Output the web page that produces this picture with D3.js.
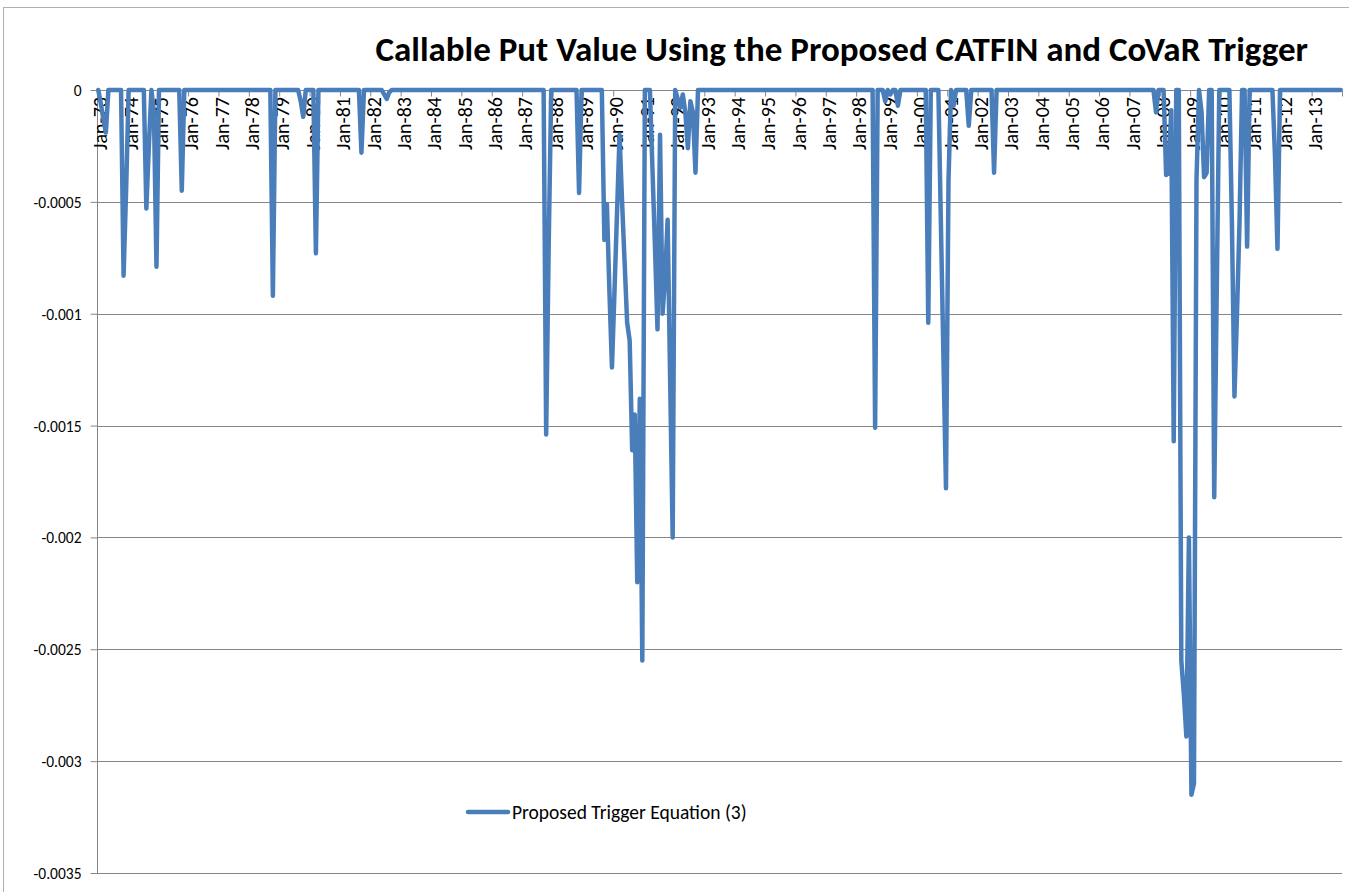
<!DOCTYPE html>
<html>
<head>
<meta charset="utf-8">
<title>Callable Put Value Using the Proposed CATFIN and CoVaR Trigger</title>
<script src="https://d3js.org/d3.v7.min.js"></script>
<style>
  body { margin: 0; background: #fff; }
  svg text { font-family: Calibri, Carlito, Lato, sans-serif; fill: #000; }
</style>
</head>
<body>
<div id="chart"></div>
<script>
// categories: one slot per month, Jan-73 .. Dec-13
const firstYear = 1973;
const lastYear = 2013;
const tickLabels = ["Jan-73","Jan-74","Jan-75","Jan-76","Jan-77","Jan-78","Jan-79","Jan-80",
  "Jan-81","Jan-82","Jan-83","Jan-84","Jan-85","Jan-86","Jan-87","Jan-88","Jan-89","Jan-90",
  "Jan-91","Jan-92","Jan-93","Jan-94","Jan-95","Jan-96","Jan-97","Jan-98","Jan-99","Jan-00",
  "Jan-01","Jan-02","Jan-03","Jan-04","Jan-05","Jan-06","Jan-07","Jan-08","Jan-09","Jan-10",
  "Jan-11","Jan-12","Jan-13"];

// put value, one row per year (Jan..Dec)
const putValues = [
  [0, -0.00006, -0.00013, -0.00019, 0, 0, 0, 0, 0, 0, -0.00083, -0.00045], // 1973
  [0, 0, 0, 0, 0, 0, 0, -0.00053, -0.00025, 0, -0.0001, -0.00079],         // 1974
  [0, 0, 0, 0, 0, 0, 0, 0, 0, -0.00045, 0, 0],                             // 1975
  [0, 0, 0, 0, 0, 0, 0, 0, 0, 0, 0, 0],                                    // 1976
  [0, 0, 0, 0, 0, 0, 0, 0, 0, 0, 0, 0],                                    // 1977
  [0, 0, 0, 0, 0, 0, 0, 0, 0, -0.00092, 0, 0],                             // 1978
  [0, 0, 0, 0, 0, 0, 0, 0, -0.00005, -0.00012, 0, 0],                      // 1979
  [0, 0, -0.00073, 0, 0, 0, 0, 0, 0, 0, 0, 0],                             // 1980
  [0, 0, 0, 0, 0, 0, 0, 0, -0.00028, 0, 0, 0],                             // 1981
  [0, 0, 0, 0, 0, -0.00002, -0.00004, -0.00001, 0, 0, 0, 0],               // 1982
  [0, 0, 0, 0, 0, 0, 0, 0, 0, 0, 0, 0],                                    // 1983
  [0, 0, 0, 0, 0, 0, 0, 0, 0, 0, 0, 0],                                    // 1984
  [0, 0, 0, 0, 0, 0, 0, 0, 0, 0, 0, 0],                                    // 1985
  [0, 0, 0, 0, 0, 0, 0, 0, 0, 0, 0, 0],                                    // 1986
  [0, 0, 0, 0, 0, 0, 0, 0, 0, -0.00154, -0.00069, 0],                      // 1987
  [0, 0, 0, 0, 0, 0, 0, 0, 0, 0, -0.00046, 0],                             // 1988
  [0, 0, 0, 0, 0, 0, 0, 0, -0.00067, -0.00051, -0.0009, -0.00124],         // 1989
  [-0.0009, -0.00055, -0.0002, -0.0005, -0.00077, -0.00104, -0.00112, -0.00161, -0.00145, -0.0022, -0.00138, -0.00255], // 1990
  [0, 0, 0, -0.00035, -0.0007, -0.00107, -0.0002, -0.001, -0.00084, -0.00058, -0.0013, -0.002], // 1991
  [0, -0.00004, -0.00008, -0.00002, -0.0001, -0.00026, -0.00005, -0.0001, -0.00037, 0, 0, 0], // 1992
  [0, 0, 0, 0, 0, 0, 0, 0, 0, 0, 0, 0],                                    // 1993
  [0, 0, 0, 0, 0, 0, 0, 0, 0, 0, 0, 0],                                    // 1994
  [0, 0, 0, 0, 0, 0, 0, 0, 0, 0, 0, 0],                                    // 1995
  [0, 0, 0, 0, 0, 0, 0, 0, 0, 0, 0, 0],                                    // 1996
  [0, 0, 0, 0, 0, 0, 0, 0, 0, 0, 0, 0],                                    // 1997
  [0, 0, 0, 0, 0, 0, 0, -0.00151, 0, 0, 0, -0.00005],                      // 1998
  [0, -0.00002, 0, 0, -0.00007, 0, 0, 0, 0, 0, 0, 0],                      // 1999
  [0, 0, 0, 0, -0.00104, 0, 0, 0, 0, -0.0006, -0.0012, -0.00178],          // 2000
  [-0.0004, 0, -0.00007, 0, 0, 0, 0, 0, -0.00016, 0, 0, 0],                // 2001
  [0, 0, 0, 0, 0, 0, -0.00037, 0, 0, 0, 0, 0],                             // 2002
  [0, 0, 0, 0, 0, 0, 0, 0, 0, 0, 0, 0],                                    // 2003
  [0, 0, 0, 0, 0, 0, 0, 0, 0, 0, 0, 0],                                    // 2004
  [0, 0, 0, 0, 0, 0, 0, 0, 0, 0, 0, 0],                                    // 2005
  [0, 0, 0, 0, 0, 0, 0, 0, 0, 0, 0, 0],                                    // 2006
  [0, 0, 0, 0, 0, 0, 0, 0, 0, 0, -0.0001, 0],                              // 2007
  [0, 0, -0.00038, -0.00037, -0.00009, -0.00157, 0, 0, -0.00255, -0.0027, -0.00289, -0.002], // 2008
  [-0.00315, -0.0031, -0.0004, 0, -0.0001, -0.00039, -0.00037, 0, 0, -0.00182, -0.0009, 0], // 2009
  [0, 0, 0, 0, -0.0006, -0.00137, -0.001, -0.00059, 0, 0, -0.0007, 0],     // 2010
  [0, 0, 0, 0, 0, 0, 0, 0, 0, -0.00029, -0.00071, 0],                      // 2011
  [0, 0, 0, 0, 0, 0, 0, 0, 0, 0, 0, 0],                                    // 2012
  [0, 0, 0, 0, 0, 0, 0, 0, 0, 0, 0, 0]                                     // 2013
];

const yTicks = [0, -0.0005, -0.001, -0.0015, -0.002, -0.0025, -0.003, -0.0035];
const yTickLabels = ["0", "-0.0005", "-0.001", "-0.0015", "-0.002", "-0.0025", "-0.003", "-0.0035"];

const seriesName = "Proposed Trigger Equation (3)";
const chartTitle = "Callable Put Value Using the Proposed CATFIN and CoVaR Trigger";

//Variables
const w = 1349, h = 892;
const plotLeft = 97, plotRight = 1342, plotTop = 90, plotBottom = 873;
const blue = "#4a7ebb";
const grey = "#868686";

const values = putValues.flat();
const nMonths = (lastYear - firstYear + 1) * 12;

const svg = d3.select("#chart").append("svg")
  .attr("width", w)
  .attr("height", h);

// chart area border
svg.append("rect")
  .attr("x", 3.5).attr("y", 7.5)
  .attr("width", w + 10).attr("height", h + 10)
  .attr("fill", "#fff")
  .attr("stroke", "#b0b0b0");

//Scales
const xBand = d3.scaleBand()
  .domain(d3.range(nMonths))
  .range([plotLeft, plotRight]);
const xEdge = d3.scaleLinear()
  .domain([0, nMonths])
  .range([plotLeft, plotRight]);
const y = d3.scaleLinear()
  .domain([-0.0035, 0])
  .range([plotBottom, plotTop]);

//Gridlines
svg.append("g")
  .selectAll("line")
  .data(yTicks.filter(d => d !== 0))
  .enter()
  .append("line")
  .attr("x1", plotLeft).attr("x2", plotRight)
  .attr("y1", d => Math.round(y(d)) + 0.5)
  .attr("y2", d => Math.round(y(d)) + 0.5)
  .attr("stroke", grey)
  .attr("stroke-width", 1);

//Y axis
const yAxis = d3.axisLeft(y)
  .tickValues(yTicks)
  .tickSize(7)
  .tickPadding(9)
  .tickFormat((d, i) => yTickLabels[i]);
const gy = svg.append("g")
  .attr("transform", "translate(" + (plotLeft + 0.5) + ",0)")
  .call(yAxis);
gy.selectAll("path, line").attr("stroke", grey);
gy.select(".domain").attr("d", "M0," + plotTop + "V" + plotBottom);
gy.selectAll("text")
  .style("font-size", "15.5px")
  .attr("dy", "0.35em");

//X axis: tick marks on year boundaries
const xAxis = d3.axisBottom(xEdge)
  .tickValues(d3.range(0, nMonths + 1, 12))
  .tickSize(6)
  .tickFormat("");
const gx = svg.append("g")
  .attr("transform", "translate(0," + (plotTop + 0.5) + ")")
  .call(xAxis);
gx.selectAll("path, line").attr("stroke", grey);
gx.select(".domain").attr("d", "M" + plotLeft + ",0H" + plotRight);

// rotated January labels
svg.append("g")
  .selectAll("text")
  .data(tickLabels)
  .enter()
  .append("text")
  .attr("transform", (d, i) => {
    const cx = xBand(i * 12) + xBand.bandwidth() / 2 + 2;
    return "translate(" + cx + "," + (plotTop + 7) + ") rotate(-90)";
  })
  .attr("text-anchor", "end")
  .attr("dy", "0.35em")
  .style("font-size", "20px")
  .text(d => d);

//Line
const line = d3.line()
  .x((d, i) => xBand(i) + xBand.bandwidth() / 2)
  .y(d => y(d));

svg.append("path")
  .datum(values)
  .attr("fill", "none")
  .attr("stroke", blue)
  .attr("stroke-width", 4.5)
  .attr("stroke-linejoin", "round")
  .attr("stroke-linecap", "round")
  .attr("d", line);

//Title
svg.append("text")
  .attr("x", 1308)
  .attr("y", 61)
  .attr("text-anchor", "end")
  .style("font-size", "35px")
  .style("font-weight", "bold")
  .text(chartTitle);

//Legend
const legend = svg.append("g").attr("transform", "translate(468,812)");
legend.append("line")
  .attr("x1", 0).attr("x2", 40)
  .attr("y1", 0).attr("y2", 0)
  .attr("stroke", blue)
  .attr("stroke-width", 4.5)
  .attr("stroke-linecap", "round");
legend.append("text")
  .attr("x", 44)
  .attr("y", 0)
  .attr("dy", "0.35em")
  .style("font-size", "19.5px")
  .text(seriesName);
</script>
</body>
</html>
